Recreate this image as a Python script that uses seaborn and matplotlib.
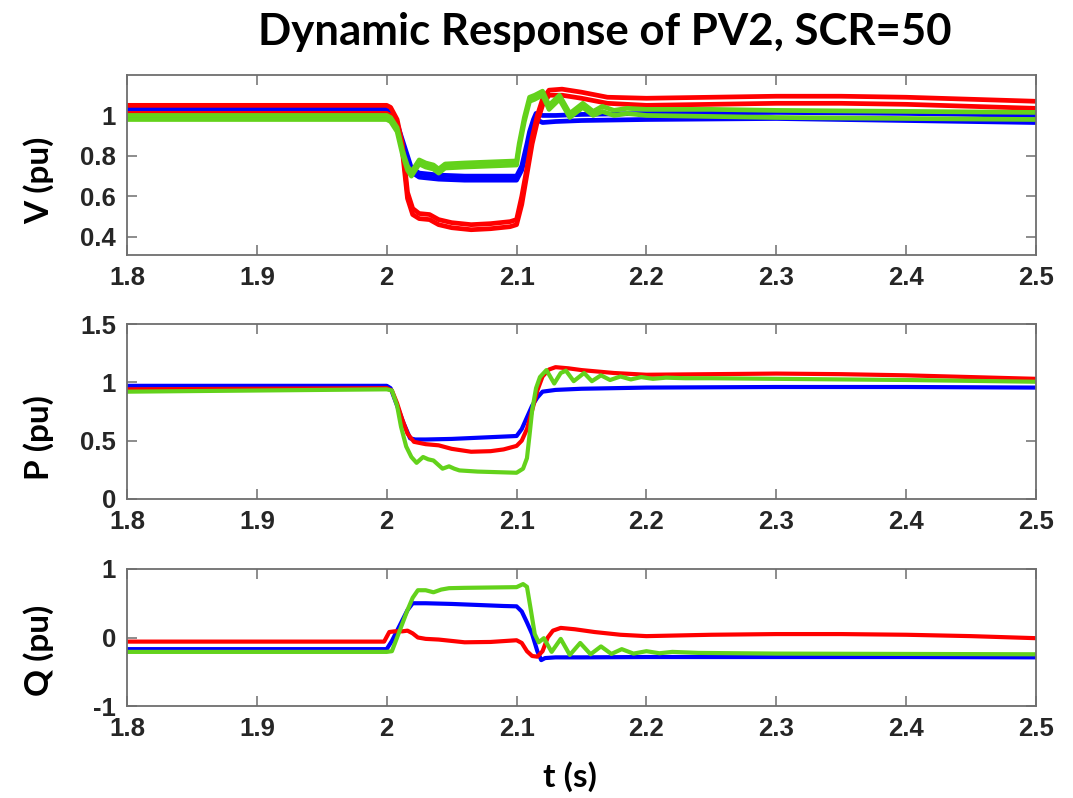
import numpy as np
import pandas as pd
import matplotlib
matplotlib.use("Agg")
import matplotlib.pyplot as plt
import seaborn as sns

# ---------------- data ----------------
# Voltage panel: two traces per colour
t_V_red = [1.8, 2.0, 2.003, 2.008, 2.012, 2.016, 2.02, 2.025, 2.033, 2.04, 2.05, 2.065, 2.08, 2.095, 2.1,
           2.104, 2.108, 2.112, 2.116, 2.12, 2.125, 2.135, 2.15, 2.17, 2.2, 2.25, 2.3, 2.35, 2.4, 2.45, 2.5]
V_red_1 = [1.05, 1.05, 1.04, 0.98, 0.86, 0.62, 0.54, 0.515, 0.51, 0.485, 0.47, 0.46, 0.465, 0.475, 0.485,
           0.6, 0.74, 0.89, 1.0, 1.08, 1.125, 1.13, 1.115, 1.09, 1.085, 1.09, 1.095, 1.095, 1.09, 1.08, 1.07]
V_red_2 = [1.01, 1.01, 1.0, 0.95, 0.83, 0.59, 0.51, 0.49, 0.485, 0.46, 0.445, 0.435, 0.44, 0.45, 0.46,
           0.56, 0.71, 0.86, 0.97, 1.05, 1.1, 1.1, 1.085, 1.06, 1.05, 1.055, 1.06, 1.06, 1.055, 1.045, 1.035]

t_V_blue = [1.8, 2.0, 2.003, 2.008, 2.012, 2.016, 2.019, 2.025, 2.04, 2.06, 2.08, 2.1,
            2.104, 2.108, 2.11, 2.113, 2.115, 2.12, 2.13, 2.15, 2.2, 2.3, 2.4, 2.5]
V_blue_1 = [1.03, 1.03, 1.02, 0.96, 0.88, 0.8, 0.74, 0.715, 0.705, 0.7, 0.7, 0.7,
            0.75, 0.86, 0.92, 0.98, 1.01, 1.0, 1.0, 1.005, 1.01, 1.015, 1.01, 1.0]
V_blue_2 = [1.0, 1.0, 0.99, 0.93, 0.86, 0.78, 0.72, 0.695, 0.685, 0.68, 0.68, 0.68,
            0.73, 0.83, 0.9, 0.96, 0.98, 0.965, 0.97, 0.975, 0.98, 0.985, 0.975, 0.965]

t_V_green = [1.8, 2.0, 2.003, 2.008, 2.012, 2.016, 2.019, 2.025, 2.03, 2.036, 2.04, 2.045, 2.06, 2.08, 2.1,
             2.102, 2.106, 2.11, 2.114, 2.12, 2.125, 2.133, 2.141, 2.151, 2.159, 2.166, 2.175, 2.185,
             2.2, 2.25, 2.3, 2.4, 2.5]
V_green_1 = [1.0, 1.0, 0.99, 0.94, 0.83, 0.75, 0.72, 0.78, 0.765, 0.755, 0.735, 0.76, 0.765, 0.77, 0.775,
             0.86, 0.99, 1.09, 1.1, 1.12, 1.05, 1.1, 1.01, 1.06, 1.02, 1.045, 1.025, 1.035,
             1.03, 1.03, 1.025, 1.02, 1.015]
V_green_2 = [0.98, 0.98, 0.97, 0.92, 0.81, 0.73, 0.7, 0.76, 0.745, 0.735, 0.715, 0.74, 0.745, 0.75, 0.755,
             0.84, 0.97, 1.07, 1.08, 1.1, 1.03, 1.08, 0.99, 1.04, 1.0, 1.02, 1.0, 1.01,
             1.0, 0.995, 0.99, 0.985, 0.98]

# Active power panel
t_P_red = [1.8, 2.0, 2.004, 2.008, 2.012, 2.016, 2.021, 2.03, 2.04, 2.05, 2.065, 2.08, 2.09, 2.1,
           2.104, 2.108, 2.112, 2.116, 2.12, 2.125, 2.13, 2.14, 2.15, 2.175, 2.2, 2.25, 2.3, 2.35, 2.4, 2.45, 2.5]
P_red = [0.94, 0.95, 0.93, 0.82, 0.68, 0.56, 0.49, 0.47, 0.46, 0.43, 0.405, 0.41, 0.425, 0.455,
         0.5, 0.6, 0.76, 0.93, 1.05, 1.11, 1.13, 1.12, 1.105, 1.08, 1.065, 1.07, 1.075, 1.07, 1.06, 1.045, 1.03]

t_P_blue = [1.8, 2.0, 2.003, 2.008, 2.013, 2.018, 2.022, 2.03, 2.05, 2.07, 2.09, 2.1,
            2.104, 2.108, 2.112, 2.116, 2.12, 2.13, 2.15, 2.2, 2.3, 2.4, 2.5]
P_blue = [0.97, 0.97, 0.95, 0.8, 0.65, 0.52, 0.51, 0.51, 0.515, 0.525, 0.535, 0.54,
          0.6, 0.7, 0.8, 0.87, 0.92, 0.935, 0.945, 0.955, 0.96, 0.96, 0.955]

t_P_green = [1.8, 2.0, 2.004, 2.008, 2.011, 2.015, 2.019, 2.023, 2.028, 2.032, 2.036, 2.04, 2.043, 2.048,
             2.052, 2.056, 2.07, 2.085, 2.1, 2.105, 2.108, 2.11, 2.112, 2.115, 2.118, 2.123, 2.129, 2.134,
             2.138, 2.144, 2.152, 2.158, 2.165, 2.172, 2.18, 2.188, 2.196, 2.205, 2.215, 2.23, 2.25,
             2.3, 2.4, 2.5]
P_green = [0.92, 0.94, 0.93, 0.8, 0.62, 0.45, 0.36, 0.31, 0.36, 0.34, 0.33, 0.29, 0.26, 0.28,
           0.26, 0.245, 0.235, 0.23, 0.225, 0.26, 0.35, 0.55, 0.76, 0.95, 1.045, 1.105, 0.99, 1.08,
           1.1, 1.01, 1.08, 1.01, 1.06, 1.02, 1.05, 1.025, 1.045, 1.03, 1.04, 1.035, 1.035,
           1.03, 1.02, 1.005]

# Reactive power panel
t_Q_red = [1.8, 1.998, 2.002, 2.006, 2.012, 2.016, 2.02, 2.024, 2.03, 2.04, 2.05, 2.06, 2.08, 2.1,
           2.104, 2.108, 2.112, 2.116, 2.12, 2.124, 2.128, 2.134, 2.145, 2.16, 2.18, 2.2, 2.25, 2.3,
           2.35, 2.4, 2.45, 2.5]
Q_red = [-0.06, -0.06, 0.08, 0.09, 0.09, 0.1, 0.06, 0.0, -0.02, -0.03, -0.05, -0.07, -0.065, -0.04,
         -0.08, -0.2, -0.27, -0.28, -0.2, 0.0, 0.1, 0.14, 0.12, 0.08, 0.04, 0.02, 0.04, 0.05,
         0.05, 0.04, 0.02, -0.01]

t_Q_blue = [1.8, 2.0, 2.004, 2.008, 2.012, 2.016, 2.02, 2.03, 2.05, 2.07, 2.09, 2.1,
            2.104, 2.108, 2.112, 2.116, 2.119, 2.122, 2.13, 2.15, 2.2, 2.3, 2.4, 2.5]
Q_blue = [-0.17, -0.17, -0.05, 0.1, 0.25, 0.4, 0.5, 0.5, 0.49, 0.475, 0.46, 0.455,
          0.38, 0.22, 0.05, -0.2, -0.33, -0.3, -0.29, -0.29, -0.285, -0.285, -0.285, -0.29]

t_Q_green = [1.8, 2.0, 2.004, 2.008, 2.012, 2.016, 2.02, 2.024, 2.03, 2.036, 2.042, 2.048, 2.06, 2.08, 2.1,
             2.105, 2.108, 2.111, 2.114, 2.117, 2.121, 2.127, 2.134, 2.141, 2.149, 2.157, 2.165, 2.173,
             2.181, 2.19, 2.2, 2.21, 2.22, 2.24, 2.3, 2.4, 2.5]
Q_green = [-0.21, -0.21, -0.2, 0.0, 0.2, 0.4, 0.58, 0.69, 0.69, 0.66, 0.7, 0.72, 0.725, 0.73, 0.735,
           0.78, 0.74, 0.4, 0.05, -0.07, -0.01, -0.21, -0.02, -0.255, -0.08, -0.245, -0.13, -0.24,
           -0.17, -0.235, -0.2, -0.23, -0.21, -0.225, -0.235, -0.24, -0.245]

x_ticks = [1.8, 1.9, 2.0, 2.1, 2.2, 2.3, 2.4, 2.5]
x_tick_labels = ["1.8", "1.9", "2", "2.1", "2.2", "2.3", "2.4", "2.5"]
V_ticks = [0.4, 0.6, 0.8, 1.0]
V_tick_labels = ["0.4", "0.6", "0.8", "1"]
P_ticks = [0, 0.5, 1.0, 1.5]
P_tick_labels = ["0", "0.5", "1", "1.5"]
Q_ticks = [-1, 0, 1]
Q_tick_labels = ["-1", "0", "1"]

title = "Dynamic Response of PV2, SCR=50"
y_labels = ["V (pu)", "P (pu)", "Q (pu)"]
x_label = "t (s)"

# ---------------- style ----------------
sns.set_theme(style="white")
plt.rcParams["font.family"] = ["Liberation Sans", "DejaVu Sans"]

RED = "#FF0000"
BLUE = "#0000FF"
GREEN = "#63D21B"
AXC = "#6e6e6e"
TXT = "#262626"

fig = plt.figure(figsize=(10.73, 7.98), dpi=100)
W, H = 1073, 798


def add_axes(left, top, right, bottom):
    return fig.add_axes([left / W, 1 - bottom / H, (right - left) / W, (bottom - top) / H])


axV = add_axes(127, 75, 1036, 255)
axP = add_axes(127, 324, 1036, 499)
axQ = add_axes(127, 569, 1036, 706)


def draw(ax, t, y, color, lw):
    df = pd.DataFrame({"t": t, "y": y})
    sns.lineplot(data=df, x="t", y="y", ax=ax, color=color, linewidth=lw,
                 estimator=None, sort=False, legend=False, solid_joinstyle="round",
                 solid_capstyle="butt")


lwV = 3.4
draw(axV, t_V_blue, V_blue_2, BLUE, lwV)
draw(axV, t_V_blue, V_blue_1, BLUE, lwV)
draw(axV, t_V_red, V_red_2, RED, lwV)
draw(axV, t_V_red, V_red_1, RED, lwV)
draw(axV, t_V_green, V_green_2, GREEN, lwV)
draw(axV, t_V_green, V_green_1, GREEN, lwV)

lw = 3.0
draw(axP, t_P_blue, P_blue, BLUE, lw)
draw(axP, t_P_red, P_red, RED, lw)
draw(axP, t_P_green, P_green, GREEN, lw)

draw(axQ, t_Q_blue, Q_blue, BLUE, lw)
draw(axQ, t_Q_red, Q_red, RED, lw)
draw(axQ, t_Q_green, Q_green, GREEN, lw)

tick_font = dict(family=["Liberation Sans", "DejaVu Sans"], weight="bold", size=18.5)
limits = [(0.31, 1.2), (0, 1.5), (-1, 1)]
yticks = [(V_ticks, V_tick_labels), (P_ticks, P_tick_labels), (Q_ticks, Q_tick_labels)]
for ax, lim, (tk, tl) in zip([axV, axP, axQ], limits, yticks):
    ax.set_xlim(1.8, 2.5)
    ax.set_ylim(*lim)
    ax.set_xticks(x_ticks)
    ax.set_xticklabels(x_tick_labels, fontdict=tick_font)
    ax.set_yticks(tk)
    ax.set_yticklabels(tl, fontdict=tick_font)
    ax.set_xlabel("")
    ax.set_ylabel("")
    for s in ax.spines.values():
        s.set_visible(True)
        s.set_color(AXC)
        s.set_linewidth(1.3)
    ax.tick_params(axis="both", direction="in", length=7, width=1.1, color=AXC,
                   top=True, right=True, bottom=True, left=True,
                   labelcolor=TXT, pad=8)
    ax.set_facecolor("white")

# titles / labels (Calibri-like bold text)
lab_font = ["Lato", "DejaVu Sans"]
fig.text(605 / W, 1 - 32 / H, title, ha="center", va="center", fontsize=31.5,
         fontweight="bold", family=lab_font, color="black")
for txt, yc in zip(y_labels, [180, 438, 650]):
    fig.text(39 / W, 1 - yc / H, txt, ha="center", va="center", rotation=90,
             fontsize=24, fontweight="bold", family=lab_font, color="black")
fig.text(570 / W, 1 - 777 / H, x_label, ha="center", va="center", fontsize=24,
         fontweight="bold", family=lab_font, color="black")

fig.savefig("out.png", dpi=100, facecolor="white")
